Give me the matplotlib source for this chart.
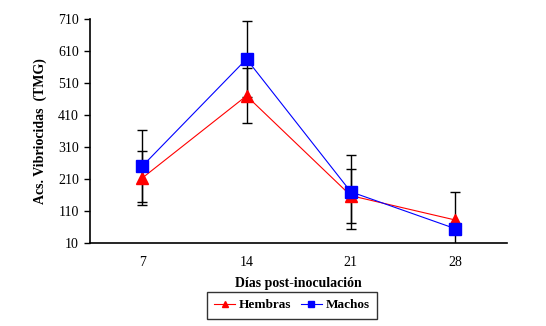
import matplotlib
matplotlib.use("Agg")
import matplotlib.pyplot as plt

# values
dias = ["7", "14", "21", "28"]
hembras = [213, 470, 158, 82]
hembras_err = [84, 86, 84, 86]
machos = [250, 585, 170, 55]
machos_err = [112, 118, 116, 15]

plt.rcParams["font.family"] = ["Liberation Serif", "DejaVu Serif"]

fig = plt.figure(figsize=(5.46, 3.26), dpi=100)
ax = fig.add_axes([0.165, 0.2546, 0.764, 0.687])

x = range(len(dias))

ax.errorbar(x, hembras, yerr=hembras_err, fmt="none", ecolor="black",
            elinewidth=1, capsize=3.5, capthick=1, zorder=2)
ax.errorbar(x, machos, yerr=machos_err, fmt="none", ecolor="black",
            elinewidth=1, capsize=3.5, capthick=1, zorder=2)
ax.plot(x, hembras, color="red", linewidth=0.8, marker="^", markersize=8,
        label="Hembras", zorder=3)
ax.plot(x, machos, color="blue", linewidth=0.8, marker="s", markersize=8,
        label="Machos", zorder=4)

ax.set_xlim(-0.5, 3.5)
ax.set_ylim(10, 710)
ax.set_yticks(range(10, 711, 100))
ax.set_xticks(list(x))
ax.set_xticklabels(dias)
ax.tick_params(axis="x", length=0, pad=9, labelsize=10)
ax.tick_params(axis="y", length=4, width=1, direction="out", labelsize=10, pad=4)

ax.spines["top"].set_visible(False)
ax.spines["right"].set_visible(False)
ax.spines["left"].set_linewidth(1.2)
ax.spines["bottom"].set_linewidth(1.2)

ax.set_xlabel("Días post-inoculación", fontsize=10, fontweight="bold", labelpad=6)
ax.set_ylabel("Acs. Vibriocidas  (TMG)", fontsize=10, fontweight="bold", labelpad=8)

leg = fig.legend(loc="center", bbox_to_anchor=(0.535, 0.064), ncol=2,
                 frameon=True, fancybox=False, edgecolor="black",
                 prop={"weight": "bold", "size": 9.5},
                 handlelength=1.6, handletextpad=0.3, columnspacing=0.7,
                 borderpad=0.55, borderaxespad=0, markerscale=0.6)
leg.get_frame().set_linewidth(1)

fig.savefig("out.png", dpi=100)
